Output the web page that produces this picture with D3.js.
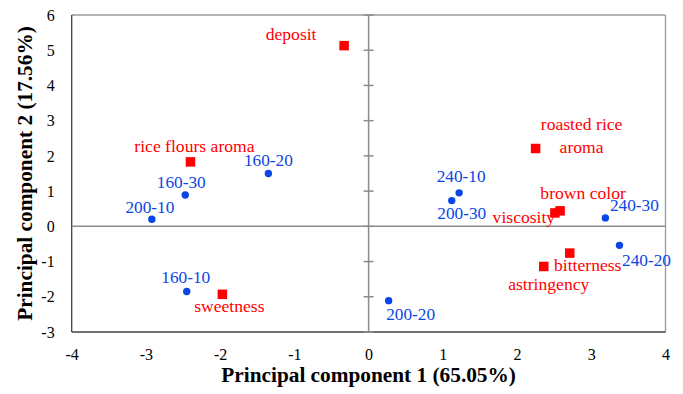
<!DOCTYPE html>
<head>
  <meta charset="utf-8">
  <title>PCA biplot</title>
  <script src="https://d3js.org/d3.v7.min.js"></script>
  <style>
    body { margin: 0; background: #fff; }
    text { font-family: "Times New Roman", "Liberation Serif", serif; }
  </style>
</head>
<body>
<svg width="683" height="394"></svg>

<script type="text/javascript">

// samples (blue dots)
var sampleNames = ["160-10", "160-20", "160-30", "200-10", "200-20", "200-30", "240-10", "240-20", "240-30"];
var samplePC1   = [-2.45, -1.35, -2.47, -2.92, 0.27, 1.12, 1.22, 3.38, 3.19];
var samplePC2   = [-1.85,  1.50,  0.89,  0.20, -2.11, 0.73, 0.95, -0.54, 0.24];

// sensory attributes (red squares)
var attrNames = ["deposit", "rice flours aroma", "sweetness", "roasted rice|aroma", "brown color", "viscosity", "bitterness", "astringency"];
var attrPC1   = [-0.33, -2.40, -1.97, 2.25, 2.58, 2.51, 2.71, 2.36];
var attrPC2   = [ 5.13,  1.83, -1.93, 2.21, 0.44, 0.38, -0.76, -1.14];

var xTicks = [-4, -3, -2, -1, 0, 1, 2, 3, 4];
var yTicks = [-3, -2, -1, 0, 1, 2, 3, 4, 5, 6];
var xTitle = "Principal component 1 (65.05%)";
var yTitle = "Principal component 2 (17.56%)";

// label placement relative to the marker (dx to text centre, dy to baseline)
var sampleLabelPos = [[-1, -8], [0, -8], [-4, -7], [-2, -6], [22, 19], [10, 18], [2, -11], [27, 21], [29, -7]];
var attrLabelPos   = [[-53, -6], [4, -10], [7, 18], [46, -18], [23, -12], [-31, 10], [18, 18], [5, 24]];

var blue = "#0a46e6", red = "#ff0000";
var serif = "'Times New Roman', 'Liberation Serif', serif";
var plotLeft = 71.7, plotRight = 665.5, plotTop = 15, plotBottom = 332;

var svg = d3.select("svg");

var x = d3.scaleLinear().domain([-4, 4]).range([plotLeft, plotRight]);
var y = d3.scaleLinear().domain([-3, 6]).range([plotBottom, plotTop]);

// plot frame
function frameLine(x1, y1, x2, y2, col) {
  svg.append("line").attr("x1", x1).attr("y1", y1).attr("x2", x2).attr("y2", y2)
    .attr("stroke", col).attr("stroke-width", 1.3);
}
frameLine(plotLeft, plotTop, plotRight, plotTop, "#9a9a9a");
frameLine(plotRight, plotTop, plotRight, plotBottom, "#9a9a9a");
frameLine(plotLeft, plotTop, plotLeft, plotBottom, "#404040");
frameLine(plotLeft, plotBottom, plotRight, plotBottom, "#404040");

// zero lines
svg.append("line").attr("x1", plotLeft).attr("x2", plotRight).attr("y1", y(0)).attr("y2", y(0))
  .attr("stroke", "#8c8c8c").attr("stroke-width", 1.5);
svg.append("line").attr("x1", x(0)).attr("x2", x(0)).attr("y1", plotTop).attr("y2", plotBottom)
  .attr("stroke", "#8c8c8c").attr("stroke-width", 1.5);

// cross tick marks on the vertical zero line
svg.selectAll(".ytickmark")
  .data(yTicks)
  .enter().append("line")
    .attr("class", "ytickmark")
    .attr("x1", x(0) - 5).attr("x2", x(0) + 5)
    .attr("y1", function(d) { return y(d); })
    .attr("y2", function(d) { return y(d); })
    .attr("stroke", "#8c8c8c").attr("stroke-width", 1.5);

// tick labels (plain hyphen for negatives, like the original)
var yAxis = svg.append("g")
  .attr("transform", "translate(" + plotLeft + ",0)")
  .call(d3.axisLeft(y).tickValues(yTicks).tickSize(0).tickPadding(17).tickFormat(String));
yAxis.attr("font-family", serif).attr("font-size", 16);
yAxis.select(".domain").remove();
yAxis.selectAll("text").style("fill", "#000");

var xAxis = svg.append("g")
  .attr("transform", "translate(0," + plotBottom + ")")
  .call(d3.axisBottom(x).tickValues(xTicks).tickSize(0).tickPadding(17).tickFormat(String));
xAxis.attr("font-family", serif).attr("font-size", 16);
xAxis.select(".domain").remove();
xAxis.selectAll("text").style("fill", "#000");

// axis titles
svg.append("text")
  .attr("x", (plotLeft + plotRight) / 2).attr("y", 382)
  .attr("text-anchor", "middle")
  .style("font-size", "21.3px").style("font-weight", "bold")
  .text(xTitle);

svg.append("text")
  .attr("transform", "translate(31.5," + (plotTop + plotBottom) / 2 + ") rotate(-90)")
  .attr("text-anchor", "middle")
  .style("font-size", "21.3px").style("font-weight", "bold")
  .text(yTitle);

// sample points
var samples = sampleNames.map(function(n, i) {
  return { name: n, pc1: samplePC1[i], pc2: samplePC2[i], pos: sampleLabelPos[i] };
});

svg.selectAll(".sample")
  .data(samples)
  .enter().append("circle")
    .attr("class", "sample")
    .attr("cx", function(d) { return x(d.pc1); })
    .attr("cy", function(d) { return y(d.pc2); })
    .attr("r", 3.7)
    .style("fill", blue);

svg.selectAll(".sampleLabel")
  .data(samples)
  .enter().append("text")
    .attr("class", "sampleLabel")
    .attr("x", function(d) { return x(d.pc1) + d.pos[0]; })
    .attr("y", function(d) { return y(d.pc2) + d.pos[1]; })
    .attr("text-anchor", "middle")
    .style("font-size", "17.3px")
    .style("fill", blue)
    .text(function(d) { return d.name; });

// attribute points
var attrs = attrNames.map(function(n, i) {
  return { name: n, pc1: attrPC1[i], pc2: attrPC2[i], pos: attrLabelPos[i] };
});

var sq = 9.5;
svg.selectAll(".attr")
  .data(attrs)
  .enter().append("rect")
    .attr("class", "attr")
    .attr("x", function(d) { return x(d.pc1) - sq / 2; })
    .attr("y", function(d) { return y(d.pc2) - sq / 2; })
    .attr("width", sq)
    .attr("height", sq)
    .style("fill", red);

var attrLabels = svg.selectAll(".attrLabel")
  .data(attrs)
  .enter().append("text")
    .attr("class", "attrLabel")
    .attr("text-anchor", "middle")
    .style("font-size", "17.6px")
    .style("fill", red);

// multi-line labels are split at "|"
attrLabels.each(function(d) {
  var lines = d.name.split("|");
  var t = d3.select(this);
  lines.forEach(function(line, k) {
    t.append("tspan")
      .attr("x", x(d.pc1) + d.pos[0])
      .attr("y", y(d.pc2) + d.pos[1] + k * 22.7)
      .text(line);
  });
});

</script>
</body>
</html>
